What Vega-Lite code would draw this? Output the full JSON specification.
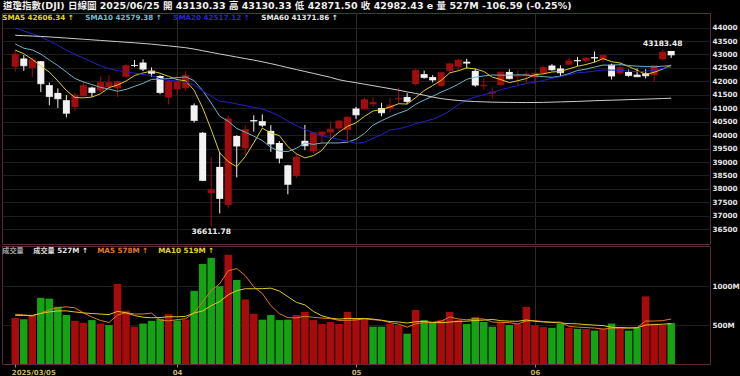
{
  "$schema": "https://vega.github.io/schema/vega-lite/v6.json",
  "background": "#000000",
  "padding": {"left": 1, "top": 1, "right": 0, "bottom": 0},
  "title": {"text": "道瓊指數(DJI)  日線圖  2025/06/25  開 43130.33  高 43130.33  低 42871.50  收 42982.43 e  量 527M  -106.59 (-0.25%)", "anchor": "start", "frame": "group", "color": "#f0f0f0", "font": "DejaVu Sans, Noto Sans CJK TC", "fontSize": 9.5, "fontWeight": "bold", "offset": 2, "dx": 1},
  "spacing": 0,
  "config": {
    "view": {"stroke": "#5b2b39", "strokeWidth": 1},
    "axis": {"domain": false, "ticks": false, "title": null, "labelFont": "DejaVu Sans", "labelFontWeight": "bold", "labelFontSize": 7.2, "labelColor": "#e6e6e6", "gridColor": "#1d1d1d", "gridWidth": 1, "labelOverlap": false, "labelSeparation": 0, "labelBound": false},
    "legend": {"orient": "none", "direction": "horizontal", "title": null, "symbolSize": 0, "symbolOpacity": 0, "symbolStrokeWidth": 0, "labelFont": "DejaVu Sans, Noto Sans CJK TC", "labelFontWeight": "bold", "labelFontSize": 7.2, "labelOffset": -8, "labelLimit": 300, "padding": 0}
  },
  "resolve": {"scale": {"x": "independent", "y": "independent", "color": "independent"}},
  "datasets": {"d": [
{"i":0,"t":"2025-03-05","o":42540,"h":43150,"l":42370,"c":43006.59,"chg":485.60,"v":590,"s5":43160,"s10":43392,"s20":43986,"s60":43714,"m5":640,"m10":625},
{"i":1,"t":"2025-03-06","o":42850,"h":42980,"l":42390,"c":42579.08,"chg":-427.51,"v":575,"s5":43028,"s10":43232,"s20":43871,"s60":43700,"m5":631,"m10":625},
{"i":2,"t":"2025-03-07","o":42500,"h":42900,"l":42160,"c":42801.72,"chg":222.64,"v":620,"s5":42820,"s10":43170,"s20":43774,"s60":43686,"m5":615,"m10":625},
{"i":3,"t":"2025-03-10","o":42750,"h":42760,"l":41600,"c":41911.71,"chg":-890.01,"v":850,"s5":42564,"s10":43015,"s20":43654,"s60":43670,"m5":655,"m10":650},
{"i":4,"t":"2025-03-11","o":41860,"h":41960,"l":41110,"c":41433.48,"chg":-478.23,"v":840,"s5":42347,"s10":42796,"s20":43502,"s60":43652,"m5":695,"m10":670},
{"i":5,"t":"2025-03-12","o":41570,"h":41740,"l":41010,"c":41350.93,"chg":-82.55,"v":735,"s5":42015,"s10":42588,"s20":43340,"s60":43632,"m5":724,"m10":682},
{"i":6,"t":"2025-03-13","o":41300,"h":41490,"l":40660,"c":40813.57,"chg":-537.36,"v":630,"s5":41662,"s10":42345,"s20":43163,"s60":43610,"m5":735,"m10":683},
{"i":7,"t":"2025-03-14","o":41050,"h":41560,"l":40900,"c":41488.19,"chg":674.62,"v":555,"s5":41400,"s10":42110,"s20":43001,"s60":43588,"m5":722,"m10":669},
{"i":8,"t":"2025-03-17","o":41450,"h":41980,"l":41420,"c":41841.63,"chg":353.44,"v":530,"s5":41386,"s10":41975,"s20":42866,"s60":43566,"m5":658,"m10":657},
{"i":9,"t":"2025-03-18","o":41770,"h":41800,"l":41420,"c":41581.31,"chg":-260.32,"v":565,"s5":41415,"s10":41881,"s20":42717,"s60":43545,"m5":603,"m10":649},
{"i":10,"t":"2025-03-19","o":41650,"h":42170,"l":41600,"c":41964.63,"chg":383.32,"v":520,"s5":41538,"s10":41777,"s20":42584,"s60":43522,"m5":560,"m10":642},
{"i":11,"t":"2025-03-20","o":41790,"h":42230,"l":41700,"c":41953.32,"chg":-11.31,"v":500,"s5":41766,"s10":41714,"s20":42473,"s60":43500,"m5":534,"m10":635},
{"i":12,"t":"2025-03-21","o":41740,"h":42030,"l":41420,"c":41985.35,"chg":32.03,"v":1030,"s5":41865,"s10":41632,"s20":42401,"s60":43478,"m5":629,"m10":676},
{"i":13,"t":"2025-03-24","o":42170,"h":42630,"l":42150,"c":42583.32,"chg":597.97,"v":685,"s5":42013,"s10":41700,"s20":42357,"s60":43456,"m5":660,"m10":659},
{"i":14,"t":"2025-03-25","o":42610,"h":42790,"l":42530,"c":42587.50,"chg":4.18,"v":480,"s5":42215,"s10":41815,"s20":42305,"s60":43434,"m5":643,"m10":623},
{"i":15,"t":"2025-03-26","o":42700,"h":42820,"l":42380,"c":42454.79,"chg":-132.71,"v":520,"s5":42313,"s10":41925,"s20":42257,"s60":43410,"m5":643,"m10":602},
{"i":16,"t":"2025-03-27","o":42400,"h":42520,"l":42170,"c":42299.70,"chg":-155.09,"v":555,"s5":42382,"s10":42074,"s20":42210,"s60":43384,"m5":654,"m10":594},
{"i":17,"t":"2025-03-28","o":42200,"h":42230,"l":41520,"c":41583.90,"chg":-715.80,"v":580,"s5":42302,"s10":42084,"s20":42097,"s60":43352,"m5":564,"m10":597},
{"i":18,"t":"2025-03-31","o":41400,"h":42060,"l":41140,"c":42001.76,"chg":417.86,"v":640,"s5":42186,"s10":42100,"s20":42037,"s60":43320,"m5":555,"m10":608},
{"i":19,"t":"2025-04-01","o":41700,"h":42230,"l":41490,"c":41989.96,"chg":-11.80,"v":560,"s5":42066,"s10":42141,"s20":42011,"s60":43286,"m5":571,"m10":607},
{"i":20,"t":"2025-04-02","o":41750,"h":42390,"l":41650,"c":42225.32,"chg":235.36,"v":570,"s5":42020,"s10":42167,"s20":41972,"s60":43252,"m5":581,"m10":612},
{"i":21,"t":"2025-04-03","o":41110,"h":41180,"l":40470,"c":40545.93,"chg":-1679.39,"v":940,"s5":41669,"s10":42026,"s20":41870,"s60":43200,"m5":658,"m10":656},
{"i":22,"t":"2025-04-04","o":40090,"h":40120,"l":38300,"c":38314.86,"chg":-2231.07,"v":1285,"s5":41016,"s10":41659,"s20":41646,"s60":43140,"m5":799,"m10":682},
{"i":23,"t":"2025-04-07","o":37850,"h":39200,"l":36611.78,"c":37965.60,"chg":-349.26,"v":1365,"s5":40208,"s10":41197,"s20":41448,"s60":43080,"m5":944,"m10":750},
{"i":24,"t":"2025-04-08","o":38820,"h":39380,"l":37090,"c":37645.59,"chg":-320.01,"v":1000,"s5":39340,"s10":40703,"s20":41259,"s60":43018,"m5":1032,"m10":802},
{"i":25,"t":"2025-04-09","o":37410,"h":40740,"l":37280,"c":40608.45,"chg":2962.86,"v":1405,"s5":39016,"s10":40518,"s20":41222,"s60":42962,"m5":1199,"m10":890},
{"i":26,"t":"2025-04-10","o":39970,"h":40000,"l":38430,"c":39593.66,"chg":-1014.79,"v":1080,"s5":38826,"s10":40248,"s20":41161,"s60":42904,"m5":1227,"m10":943},
{"i":27,"t":"2025-04-11","o":39510,"h":40370,"l":39260,"c":40212.71,"chg":619.05,"v":830,"s5":39205,"s10":40111,"s20":41097,"s60":42846,"m5":1136,"m10":968},
{"i":28,"t":"2025-04-14","o":40560,"h":40740,"l":40130,"c":40524.79,"chg":312.08,"v":645,"s5":39717,"s10":39963,"s20":41031,"s60":42790,"m5":992,"m10":968},
{"i":29,"t":"2025-04-15","o":40520,"h":40770,"l":40300,"c":40368.96,"chg":-155.83,"v":570,"s5":40262,"s10":39801,"s20":40971,"s60":42728,"m5":906,"m10":969},
{"i":30,"t":"2025-04-16","o":40160,"h":40370,"l":39380,"c":39669.39,"chg":-699.57,"v":630,"s5":40074,"s10":39545,"s20":40856,"s60":42660,"m5":751,"m10":975},
{"i":31,"t":"2025-04-17","o":39710,"h":39780,"l":38950,"c":39142.23,"chg":-527.16,"v":565,"s5":39984,"s10":39405,"s20":40715,"s60":42588,"m5":648,"m10":938},
{"i":32,"t":"2025-04-21","o":38880,"h":38900,"l":37800,"c":38170.41,"chg":-971.82,"v":570,"s5":39575,"s10":39390,"s20":40525,"s60":42512,"m5":596,"m10":866},
{"i":33,"t":"2025-04-22","o":38480,"h":39300,"l":38400,"c":39186.98,"chg":1016.57,"v":630,"s5":39307,"s10":39512,"s20":40355,"s60":42440,"m5":593,"m10":793},
{"i":34,"t":"2025-04-23","o":39790,"h":40380,"l":39440,"c":39606.57,"chg":419.59,"v":670,"s5":39155,"s10":39708,"s20":40206,"s60":42368,"m5":613,"m10":760},
{"i":35,"t":"2025-04-24","o":39400,"h":40100,"l":39330,"c":40093.40,"chg":486.83,"v":565,"s5":39240,"s10":39657,"s20":40088,"s60":42296,"m5":600,"m10":676},
{"i":36,"t":"2025-04-25","o":39990,"h":40150,"l":39700,"c":40113.50,"chg":20.10,"v":515,"s5":39434,"s10":39709,"s20":39978,"s60":42222,"m5":590,"m10":619},
{"i":37,"t":"2025-04-28","o":40100,"h":40500,"l":39820,"c":40227.59,"chg":114.09,"v":540,"s5":39846,"s10":39710,"s20":39910,"s60":42150,"m5":584,"m10":590},
{"i":38,"t":"2025-04-29","o":40250,"h":40560,"l":40150,"c":40527.62,"chg":300.03,"v":515,"s5":40114,"s10":39711,"s20":39837,"s60":42060,"m5":561,"m10":577},
{"i":39,"t":"2025-04-30","o":40190,"h":40700,"l":39700,"c":40669.36,"chg":141.74,"v":670,"s5":40326,"s10":39741,"s20":39771,"s60":42000,"m5":561,"m10":587},
{"i":40,"t":"2025-05-01","o":40990,"h":41050,"l":40600,"c":40752.96,"chg":83.60,"v":590,"s5":40458,"s10":39849,"s20":39697,"s60":41950,"m5":566,"m10":583},
{"i":41,"t":"2025-05-02","o":40960,"h":41400,"l":40950,"c":41317.43,"chg":564.47,"v":590,"s5":40699,"s10":40067,"s20":39736,"s60":41895,"m5":581,"m10":586},
{"i":42,"t":"2025-05-05","o":41150,"h":41420,"l":41050,"c":41218.83,"chg":-98.60,"v":480,"s5":40897,"s10":40372,"s20":39881,"s60":41840,"m5":569,"m10":577},
{"i":43,"t":"2025-05-06","o":41010,"h":41200,"l":40700,"c":40829.00,"chg":-389.83,"v":480,"s5":40957,"s10":40536,"s20":40024,"s60":41785,"m5":562,"m10":562},
{"i":44,"t":"2025-05-07","o":40990,"h":41380,"l":40850,"c":41113.97,"chg":284.97,"v":515,"s5":41046,"s10":40686,"s20":40197,"s60":41730,"m5":531,"m10":546},
{"i":45,"t":"2025-05-08","o":41330,"h":41770,"l":41180,"c":41368.45,"chg":254.48,"v":500,"s5":41169,"s10":40814,"s20":40235,"s60":41672,"m5":513,"m10":540},
{"i":46,"t":"2025-05-09","o":41420,"h":41560,"l":41150,"c":41249.38,"chg":-119.07,"v":390,"s5":41156,"s10":40927,"s20":40318,"s60":41610,"m5":473,"m10":527},
{"i":47,"t":"2025-05-12","o":41900,"h":42470,"l":41850,"c":42410.10,"chg":1160.72,"v":695,"s5":41394,"s10":41146,"s20":40428,"s60":41550,"m5":516,"m10":543},
{"i":48,"t":"2025-05-13","o":42270,"h":42400,"l":42100,"c":42140.43,"chg":-269.67,"v":565,"s5":41656,"s10":41307,"s20":40509,"s60":41485,"m5":533,"m10":548},
{"i":49,"t":"2025-05-14","o":42160,"h":42230,"l":41960,"c":42051.06,"chg":-89.37,"v":530,"s5":41844,"s10":41445,"s20":40593,"s60":41415,"m5":536,"m10":534},
{"i":50,"t":"2025-05-15","o":41830,"h":42340,"l":41800,"c":42322.75,"chg":271.69,"v":565,"s5":42035,"s10":41602,"s20":40726,"s60":41360,"m5":549,"m10":531},
{"i":51,"t":"2025-05-16","o":42390,"h":42660,"l":42300,"c":42654.74,"chg":331.99,"v":670,"s5":42316,"s10":41736,"s20":40901,"s60":41320,"m5":605,"m10":539},
{"i":52,"t":"2025-05-19","o":42540,"h":42840,"l":42390,"c":42792.07,"chg":137.33,"v":565,"s5":42392,"s10":41893,"s20":41132,"s60":41290,"m5":579,"m10":548},
{"i":53,"t":"2025-05-20","o":42730,"h":42840,"l":42480,"c":42677.24,"chg":-114.83,"v":515,"s5":42500,"s10":42078,"s20":41307,"s60":41265,"m5":569,"m10":551},
{"i":54,"t":"2025-05-21","o":42390,"h":42480,"l":41800,"c":41860.44,"chg":-816.80,"v":600,"s5":42461,"s10":42153,"s20":41419,"s60":41250,"m5":583,"m10":560},
{"i":55,"t":"2025-05-22","o":41820,"h":42110,"l":41700,"c":41859.09,"chg":-1.35,"v":540,"s5":42369,"s10":42202,"s20":41508,"s60":41238,"m5":578,"m10":564},
{"i":56,"t":"2025-05-23","o":41550,"h":41780,"l":41350,"c":41603.07,"chg":-256.02,"v":480,"s5":42158,"s10":42237,"s20":41582,"s60":41228,"m5":540,"m10":573},
{"i":57,"t":"2025-05-27","o":41860,"h":42350,"l":41800,"c":42343.65,"chg":740.58,"v":540,"s5":42069,"s10":42230,"s20":41688,"s60":41222,"m5":535,"m10":557},
{"i":58,"t":"2025-05-28","o":42350,"h":42450,"l":42080,"c":42098.70,"chg":-244.95,"v":500,"s5":41953,"s10":42226,"s20":41767,"s60":41218,"m5":532,"m10":551},
{"i":59,"t":"2025-05-29","o":42180,"h":42410,"l":41860,"c":42215.73,"chg":117.03,"v":515,"s5":42024,"s10":42243,"s20":41844,"s60":41214,"m5":515,"m10":549},
{"i":60,"t":"2025-05-30","o":42200,"h":42380,"l":41950,"c":42270.07,"chg":54.34,"v":735,"s5":42106,"s10":42238,"s20":41920,"s60":41212,"m5":554,"m10":566},
{"i":61,"t":"2025-06-02","o":42150,"h":42320,"l":41880,"c":42305.48,"chg":35.41,"v":500,"s5":42247,"s10":42203,"s20":41969,"s60":41214,"m5":558,"m10":549},
{"i":62,"t":"2025-06-03","o":42310,"h":42560,"l":42250,"c":42519.64,"chg":214.16,"v":475,"s5":42282,"s10":42175,"s20":42034,"s60":41220,"m5":545,"m10":540},
{"i":63,"t":"2025-06-04","o":42590,"h":42640,"l":42400,"c":42427.74,"chg":-91.90,"v":465,"s5":42348,"s10":42150,"s20":42114,"s60":41228,"m5":538,"m10":535},
{"i":64,"t":"2025-06-05","o":42480,"h":42600,"l":42190,"c":42319.74,"chg":-108.00,"v":515,"s5":42369,"s10":42196,"s20":42174,"s60":41236,"m5":538,"m10":527},
{"i":65,"t":"2025-06-06","o":42620,"h":42880,"l":42600,"c":42762.87,"chg":443.13,"v":465,"s5":42467,"s10":42287,"s20":42244,"s60":41246,"m5":484,"m10":519},
{"i":66,"t":"2025-06-09","o":42790,"h":42910,"l":42570,"c":42761.76,"chg":-1.11,"v":450,"s5":42559,"s10":42403,"s20":42320,"s60":41256,"m5":474,"m10":516},
{"i":67,"t":"2025-06-10","o":42760,"h":42900,"l":42700,"c":42866.87,"chg":105.11,"v":450,"s5":42628,"s10":42455,"s20":42343,"s60":41268,"m5":469,"m10":507},
{"i":68,"t":"2025-06-11","o":42900,"h":43110,"l":42700,"c":42865.77,"chg":-1.10,"v":430,"s5":42716,"s10":42532,"s20":42379,"s60":41280,"m5":462,"m10":500},
{"i":69,"t":"2025-06-12","o":42820,"h":43000,"l":42700,"c":42967.62,"chg":101.85,"v":450,"s5":42845,"s10":42607,"s20":42425,"s60":41292,"m5":449,"m10":494},
{"i":70,"t":"2025-06-13","o":42620,"h":42660,"l":42070,"c":42197.79,"chg":-769.83,"v":520,"s5":42732,"s10":42600,"s20":42419,"s60":41300,"m5":460,"m10":472},
{"i":71,"t":"2025-06-16","o":42300,"h":42700,"l":42250,"c":42515.09,"chg":317.30,"v":470,"s5":42683,"s10":42621,"s20":42412,"s60":41310,"m5":464,"m10":469},
{"i":72,"t":"2025-06-17","o":42350,"h":42440,"l":42170,"c":42215.80,"chg":-299.29,"v":430,"s5":42553,"s10":42590,"s20":42383,"s60":41320,"m5":460,"m10":465},
{"i":73,"t":"2025-06-18","o":42250,"h":42480,"l":42160,"c":42171.66,"chg":-44.14,"v":470,"s5":42414,"s10":42565,"s20":42358,"s60":41330,"m5":468,"m10":465},
{"i":74,"t":"2025-06-20","o":42300,"h":42450,"l":42110,"c":42206.82,"chg":35.16,"v":870,"s5":42262,"s10":42553,"s20":42375,"s60":41340,"m5":552,"m10":501},
{"i":75,"t":"2025-06-23","o":42230,"h":42600,"l":41990,"c":42581.78,"chg":374.96,"v":520,"s5":42338,"s10":42535,"s20":42411,"s60":41350,"m5":552,"m10":506},
{"i":76,"t":"2025-06-24","o":42820,"h":43183.48,"l":42800,"c":43089.02,"chg":507.24,"v":500,"s5":42453,"s10":42568,"s20":42485,"s60":41362,"m5":558,"m10":511},
{"i":77,"t":"2025-06-25","o":43130.33,"h":43130.33,"l":42871.50,"c":42982.43,"chg":-106.59,"v":527,"s5":42606.34,"s10":42579.38,"s20":42517.12,"s60":41371.86,"m5":578,"m10":519}
  ]},
  "vconcat": [
    {
      "width": 708, "height": 231,
      "data": {"name": "d"},
      "layer": [
        {"mark": {"type": "rule", "strokeWidth": 1},
         "encoding": {
           "x": {"field": "i", "type": "quantitative", "scale": {"domain": [-0.97, 80.97], "nice": false, "zero": false}, "axis": {"values": [19, 40, 61], "labels": false, "grid": true, "gridColor": "#2b2b2b", "tickCount": 20}},
           "y": {"field": "l", "type": "quantitative", "scale": {"domain": [35953, 44542], "nice": false, "zero": false}, "axis": {"orient": "right", "values": [36500,37000,37500,38000,38500,39000,39500,40000,40500,41000,41500,42000,42500,43000,43500,44000], "tickCount": 40, "format": "d", "grid": true, "labelPadding": 2, "labelOverlap": false, "labelSeparation": 0}},
           "y2": {"field": "h"},
           "color": {"condition": {"test": "datum.c > datum.o", "value": "#a00d0d"}, "value": "#f2f2f2"}
         }},
        {"mark": {"type": "tick", "orient": "horizontal", "size": 7, "thickness": 1},
         "encoding": {
           "x": {"field": "i", "type": "quantitative"},
           "y": {"field": "c", "type": "quantitative"},
           "color": {"condition": {"test": "datum.c > datum.o", "value": "#a00d0d"}, "value": "#f2f2f2"}
         }},
        {"mark": {"type": "bar", "width": 7},
         "encoding": {
           "x": {"field": "i", "type": "quantitative"},
           "y": {"field": "o", "type": "quantitative"},
           "y2": {"field": "c"},
           "color": {"condition": {"test": "datum.c > datum.o", "value": "#a00d0d"}, "value": "#f2f2f2"}
         }},
        {"transform": [{"fold": ["s5", "s10", "s20", "s60"], "as": ["series", "val"]}],
         "mark": {"type": "line", "strokeWidth": 1},
         "encoding": {
           "x": {"field": "i", "type": "quantitative"},
           "y": {"field": "val", "type": "quantitative"},
           "color": {"field": "series", "type": "nominal",
             "scale": {"domain": ["s5", "s10", "s20", "s60"], "range": ["#d9cc2e", "#6fb3c9", "#2222cc", "#cccccc"]},
             "legend": {"legendX": 1, "legendY": 1.5, "columnPadding": 11,
               "labelExpr": "datum.value == 's5' ? 'SMA5 42606.34 ↑' : datum.value == 's10' ? 'SMA10 42579.38 ↑' : datum.value == 's20' ? 'SMA20 42517.12 ↑' : 'SMA60 41371.86 ↑'",
               "encode": {"labels": {"update": {"fill": {"signal": "datum.value == 's5' ? '#e3d52e' : datum.value == 's10' ? '#74bad0' : datum.value == 's20' ? '#2626d0' : '#e4e4e4'"}}}}}
           }
         }},
        {"transform": [{"joinaggregate": [{"op": "max", "field": "h", "as": "hmax"}]}, {"filter": "datum.h == datum.hmax"}],
         "mark": {"type": "text", "dy": -6, "font": "DejaVu Sans", "fontSize": 7.5, "fontWeight": "bold", "color": "#eeeeee"},
         "encoding": {
           "x": {"field": "i", "type": "quantitative"},
           "y": {"field": "h", "type": "quantitative"},
           "text": {"field": "h", "type": "quantitative", "format": ".2f"}
         }},
        {"transform": [{"joinaggregate": [{"op": "min", "field": "l", "as": "lmin"}]}, {"filter": "datum.l == datum.lmin"}],
         "mark": {"type": "text", "dy": 6, "font": "DejaVu Sans", "fontSize": 7.5, "fontWeight": "bold", "color": "#eeeeee"},
         "encoding": {
           "x": {"field": "i", "type": "quantitative"},
           "y": {"field": "l", "type": "quantitative"},
           "text": {"field": "l", "type": "quantitative", "format": ".2f"}
         }}
      ]
    },
    {
      "width": 708, "height": 118,
      "data": {"name": "d"},
      "layer": [
        {"mark": {"type": "bar", "width": 7.5},
         "encoding": {
           "x": {"field": "i", "type": "quantitative", "scale": {"domain": [-0.97, 80.97], "nice": false, "zero": false},
             "axis": {"values": [0, 19, 40, 61], "tickCount": 20, "labelExpr": "datum.value == 0 ? '2025/03/05' : datum.value == 19 ? '04' : datum.value == 40 ? '05' : '06'", "grid": true, "gridColor": "#2b2b2b", "gridOpacity": {"condition": {"test": "datum.value == 0", "value": 0}, "value": 1}, "ticks": true, "tickSize": 3, "tickColor": "#8a8a8a", "labelColor": "#c9b760", "labelFontSize": 7, "labelFlush": false, "labelAlign": {"condition": {"test": "datum.value == 0", "value": "left"}, "value": "center"}, "labelOffset": {"condition": {"test": "datum.value == 0", "value": -4}, "value": 0}, "labelPadding": 1}},
           "y": {"field": "v", "type": "quantitative", "scale": {"domain": [0, 1517], "nice": false}, "axis": {"orient": "right", "values": [500, 1000], "tickCount": 10, "labelExpr": "datum.value + 'M'", "grid": true, "labelPadding": 2}},
           "color": {"condition": {"test": "datum.chg >= 0", "value": "#a80b0b"}, "value": "#13a313"}
         }},
        {"transform": [{"fold": ["m5", "m10"], "as": ["series", "val"]}],
         "mark": {"type": "line", "strokeWidth": 1},
         "encoding": {
           "x": {"field": "i", "type": "quantitative"},
           "y": {"field": "val", "type": "quantitative"},
           "color": {"field": "series", "type": "nominal",
             "scale": {"domain": ["t0", "t1", "m5", "m10"], "range": ["#a8a8a8", "#dcdcdc", "#de7a20", "#dccb1e"]},
             "legend": {"legendX": 1, "legendY": 1.5, "columnPadding": 9,
               "labelExpr": "datum.value == 't0' ? '成交量' : datum.value == 't1' ? '成交量 527M ↑' : datum.value == 'm5' ? 'MA5 578M ↑' : 'MA10 519M ↑'",
               "encode": {"labels": {"update": {"fill": {"signal": "datum.value == 't0' ? '#a8a8a8' : datum.value == 't1' ? '#e0e0e0' : datum.value == 'm5' ? '#e07a22' : '#e3d21e'"}}}}}
           }
         }}
      ]
    }
  ]
}
